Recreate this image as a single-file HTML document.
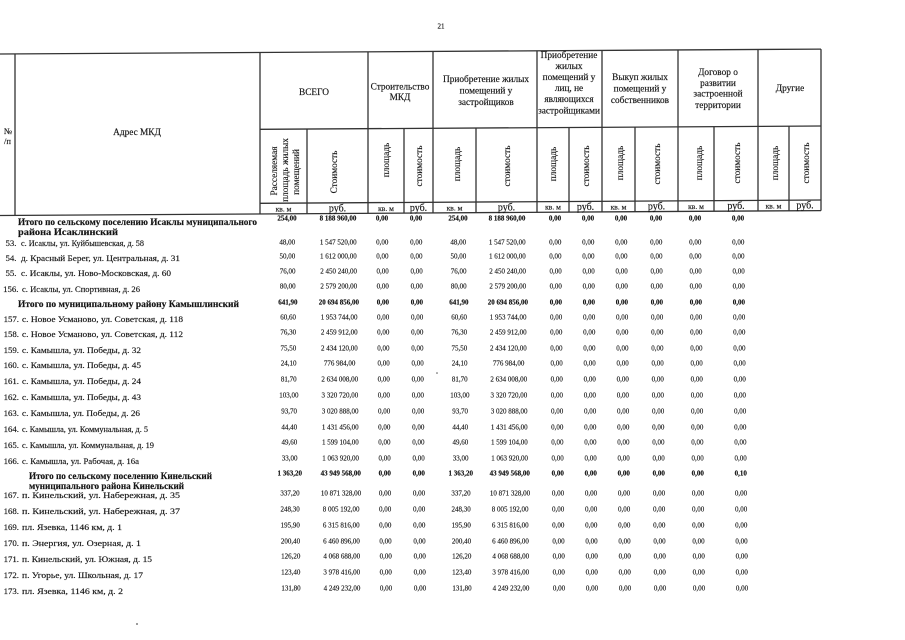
<!DOCTYPE html>
<html>
<head>
<meta charset="utf-8">
<style>
  html,body{margin:0;padding:0;background:#fff;}
  svg{display:block;}
  text{font-family:"Liberation Serif","Noto Serif CJK SC",serif;fill:#141414;stroke:#141414;stroke-width:0.15;}
  .h{font-size:9.3px;text-anchor:middle;}
  .r{font-size:9.3px;text-anchor:middle;}
  .u{font-size:7.5px;text-anchor:middle;}
  .ru{font-size:10px;text-anchor:middle;}
  .a{font-size:8.8px;}
  .i{font-size:8.8px;text-anchor:end;}
  .t{font-size:9px;font-weight:bold;}
  .n text{font-size:7px;text-anchor:middle;fill:#1e1e1e;}
  .nb text{font-size:7px;text-anchor:middle;font-weight:bold;fill:#111;}
  line{stroke:#333;stroke-width:1.3;}
</style>
</head>
<body>
<svg width="905" height="640" viewBox="0 0 905 640" xmlns="http://www.w3.org/2000/svg">
  <!-- page number -->
  <text x="441" y="28.5" style="font-size:7px;text-anchor:middle;">21</text>

  <!-- header grid -->
  <line x1="0" y1="54" x2="821" y2="49.1"/>
  <line x1="260" y1="129.3" x2="821" y2="126"/>
  <line x1="260" y1="203.3" x2="821" y2="200"/>
  <line x1="0" y1="215.5" x2="821" y2="210.6"/>

  <line x1="15" y1="53.9" x2="15" y2="215.4"/>
  <line x1="260" y1="52.4" x2="260" y2="213.9"/>
  <line x1="307" y1="129.1" x2="307" y2="213.7"/>
  <line x1="368" y1="51.8" x2="368" y2="213.3"/>
  <line x1="404" y1="128.5" x2="404" y2="213.1"/>
  <line x1="433" y1="51.4" x2="433" y2="212.9"/>
  <line x1="476" y1="128.0" x2="476" y2="212.6"/>
  <line x1="537" y1="50.8" x2="537" y2="212.3"/>
  <line x1="569" y1="127.5" x2="569" y2="212.1"/>
  <line x1="602" y1="50.4" x2="602" y2="211.9"/>
  <line x1="635" y1="127.1" x2="635" y2="211.7"/>
  <line x1="678" y1="49.9" x2="678" y2="211.4"/>
  <line x1="714" y1="126.6" x2="714" y2="211.2"/>
  <line x1="758" y1="49.5" x2="758" y2="211.0"/>
  <line x1="789" y1="126.2" x2="789" y2="210.8"/>
  <line x1="821" y1="49.1" x2="821" y2="210.6"/>

  <!-- left header -->
  <text x="4" y="134" style="font-size:8.5px;">№</text>
  <text x="4" y="144" style="font-size:8.5px;">/п</text>
  <text class="h" x="137" y="135.2">Адрес МКД</text>

  <!-- group headers -->
  <text class="h" x="314" y="94.8">ВСЕГО</text>
  <text class="h" x="400" y="89.5">Строительство</text>
  <text class="h" x="400" y="100">МКД</text>
  <text class="h" x="486" y="82.2">Приобретение жилых</text>
  <text class="h" x="486" y="93.7">помещений у</text>
  <text class="h" x="486" y="105.2">застройщиков</text>
  <text class="h" x="569" y="58.2">Приобретение</text>
  <text class="h" x="569" y="69.2">жилых</text>
  <text class="h" x="569" y="80.2">помещений у</text>
  <text class="h" x="569" y="91.2">лиц, не</text>
  <text class="h" x="569" y="102.2">являющихся</text>
  <text class="h" x="569" y="113.7">застройщиками</text>
  <text class="h" x="640" y="80.2">Выкуп жилых</text>
  <text class="h" x="640" y="91.7">помещений у</text>
  <text class="h" x="640" y="103.2">собственников</text>
  <text class="h" x="718" y="75.2">Договор о</text>
  <text class="h" x="718" y="86.2">развитии</text>
  <text class="h" x="718" y="96.7">застроенной</text>
  <text class="h" x="718" y="108.2">территории</text>
  <text class="h" x="790" y="91.2">Другие</text>

  <!-- rotated sub headers -->
  <text class="r" transform="translate(274,171) rotate(-90)" y="3.2">Расселяемая</text>
  <text class="r" transform="translate(285,170) rotate(-90)" y="3.2">площадь жилых</text>
  <text class="r" transform="translate(296,172) rotate(-90)" y="3.2">помещений</text>
  <text class="r" transform="translate(334,172) rotate(-90)" y="3.2">Стоимость</text>
  <text class="r" transform="translate(386,160) rotate(-90)" y="3.2">площадь</text>
  <text class="r" transform="translate(419,166) rotate(-90)" y="3.2">стоимость</text>
  <text class="r" transform="translate(457,164) rotate(-90)" y="3.2">площадь</text>
  <text class="r" transform="translate(507,166) rotate(-90)" y="3.2">стоимость</text>
  <text class="r" transform="translate(553,164) rotate(-90)" y="3.2">площадь</text>
  <text class="r" transform="translate(586,166) rotate(-90)" y="3.2">стоимость</text>
  <text class="r" transform="translate(620,163) rotate(-90)" y="3.2">площадь</text>
  <text class="r" transform="translate(657,164) rotate(-90)" y="3.2">стоимость</text>
  <text class="r" transform="translate(699,163) rotate(-90)" y="3.2">площадь</text>
  <text class="r" transform="translate(737,163) rotate(-90)" y="3.2">стоимость</text>
  <text class="r" transform="translate(775,163) rotate(-90)" y="3.2">площадь</text>
  <text class="r" transform="translate(806,163) rotate(-90)" y="3.2">стоимость</text>

  <!-- units row -->
  <text class="u" x="283.5" y="211.3">кв. м</text>
  <text class="ru" x="337.5" y="211.6">руб.</text>
  <text class="u" x="386" y="210.8">кв. м</text>
  <text class="ru" x="418.5" y="211">руб.</text>
  <text class="u" x="454.5" y="210.3">кв. м</text>
  <text class="ru" x="506.5" y="210.5">руб.</text>
  <text class="u" x="553" y="209.7">кв. м</text>
  <text class="ru" x="585.5" y="209.9">руб.</text>
  <text class="u" x="618.5" y="209.3">кв. м</text>
  <text class="ru" x="656.5" y="209.5">руб.</text>
  <text class="u" x="696" y="208.8">кв. м</text>
  <text class="ru" x="736" y="209">руб.</text>
  <text class="u" x="773.5" y="208.3">кв. м</text>
  <text class="ru" x="805" y="208.5">руб.</text>

  <!-- address column -->
  <text class="t" x="18" y="225" textLength="239" lengthAdjust="spacingAndGlyphs">Итого по сельскому поселению Исаклы муниципального</text>
  <text class="t" x="18" y="235" textLength="100" lengthAdjust="spacingAndGlyphs">района Исаклинский</text>

  <text class="i" x="16.5" y="246">53.</text>
  <text class="a" x="21" y="246" textLength="123" lengthAdjust="spacingAndGlyphs">с. Исаклы, ул. Куйбышевская, д. 58</text>
  <text class="i" x="16.5" y="261">54.</text>
  <text class="a" x="21" y="261" textLength="159" lengthAdjust="spacingAndGlyphs">д. Красный Берег, ул. Центральная, д. 31</text>
  <text class="i" x="16.5" y="276">55.</text>
  <text class="a" x="21" y="276" textLength="150" lengthAdjust="spacingAndGlyphs">с. Исаклы, ул.  Ново-Московская, д. 60</text>
  <text class="i" x="18.5" y="292">156.</text>
  <text class="a" x="22" y="292" textLength="118" lengthAdjust="spacingAndGlyphs">с. Исаклы, ул. Спортивная, д. 26</text>

  <text class="t" x="18" y="307" textLength="221" lengthAdjust="spacingAndGlyphs">Итого по муниципальному району Камышлинский</text>

  <text class="i" x="19" y="322">157.</text>
  <text class="a" x="22" y="322" textLength="161" lengthAdjust="spacingAndGlyphs">с. Новое Усманово, ул. Советская, д. 118</text>
  <text class="i" x="19" y="337">158.</text>
  <text class="a" x="22" y="337" textLength="161" lengthAdjust="spacingAndGlyphs">с. Новое Усманово, ул. Советская, д. 112</text>
  <text class="i" x="19" y="353">159.</text>
  <text class="a" x="22" y="353" textLength="119" lengthAdjust="spacingAndGlyphs">с. Камышла, ул. Победы, д. 32</text>
  <text class="i" x="19" y="368">160.</text>
  <text class="a" x="22" y="368" textLength="119" lengthAdjust="spacingAndGlyphs">с. Камышла, ул. Победы, д. 45</text>
  <text class="i" x="19" y="384">161.</text>
  <text class="a" x="22" y="384" textLength="119" lengthAdjust="spacingAndGlyphs">с. Камышла, ул. Победы, д. 24</text>
  <text class="i" x="19" y="400">162.</text>
  <text class="a" x="22" y="400" textLength="119" lengthAdjust="spacingAndGlyphs">с. Камышла, ул. Победы, д. 43</text>
  <text class="i" x="19" y="416">163.</text>
  <text class="a" x="22" y="416" textLength="118" lengthAdjust="spacingAndGlyphs">с. Камышла, ул. Победы, д. 26</text>
  <text class="i" x="19" y="432">164.</text>
  <text class="a" x="22" y="432" textLength="126" lengthAdjust="spacingAndGlyphs">с. Камышла, ул. Коммунальная, д. 5</text>
  <text class="i" x="19" y="448">165.</text>
  <text class="a" x="22" y="448" textLength="132" lengthAdjust="spacingAndGlyphs">с. Камышла, ул. Коммунальная, д. 19</text>
  <text class="i" x="19" y="464">166.</text>
  <text class="a" x="22" y="464" textLength="117" lengthAdjust="spacingAndGlyphs">с. Камышла, ул. Рабочая, д. 16а</text>

  <text class="t" x="29" y="479" textLength="183" lengthAdjust="spacingAndGlyphs">Итого по сельскому поселению Кинельский</text>
  <text class="t" x="29" y="489" textLength="155" lengthAdjust="spacingAndGlyphs">муниципального района Кинельский</text>

  <text class="i" x="19" y="498">167.</text>
  <text class="a" x="22" y="498" textLength="158" lengthAdjust="spacingAndGlyphs">п. Кинельский, ул.  Набережная, д. 35</text>
  <text class="i" x="19" y="514">168.</text>
  <text class="a" x="22" y="514" textLength="158" lengthAdjust="spacingAndGlyphs">п. Кинельский, ул.  Набережная, д. 37</text>
  <text class="i" x="19" y="530">169.</text>
  <text class="a" x="22" y="530" textLength="100" lengthAdjust="spacingAndGlyphs">пл. Язевка, 1146 км, д. 1</text>
  <text class="i" x="19" y="546">170.</text>
  <text class="a" x="22" y="546" textLength="119" lengthAdjust="spacingAndGlyphs">п. Энергия, ул. Озерная, д. 1</text>
  <text class="i" x="19" y="562">171.</text>
  <text class="a" x="22" y="562" textLength="130" lengthAdjust="spacingAndGlyphs">п. Кинельский, ул. Южная, д. 15</text>
  <text class="i" x="19" y="578">172.</text>
  <text class="a" x="22" y="578" textLength="121" lengthAdjust="spacingAndGlyphs">п. Угорье, ул. Школьная, д. 17</text>
  <text class="i" x="19" y="594">173.</text>
  <text class="a" x="22" y="594" textLength="101" lengthAdjust="spacingAndGlyphs">пл. Язевка, 1146 км, д. 2</text>

  <!-- data rows -->
  <g class="nb" transform="translate(0,220.5)">
    <text x="287">254,00</text><text x="338">8 188 960,00</text><text x="382">0,00</text><text x="416">0,00</text>
    <text x="458">254,00</text><text x="507">8 188 960,00</text><text x="555">0,00</text><text x="588">0,00</text>
    <text x="621">0,00</text><text x="656">0,00</text><text x="695">0,00</text><text x="738">0,00</text>
  </g>
  <g class="n" transform="translate(0.3,244.5)">
    <text x="287">48,00</text><text x="338">1 547 520,00</text><text x="382">0,00</text><text x="416">0,00</text>
    <text x="458">48,00</text><text x="507">1 547 520,00</text><text x="555">0,00</text><text x="588">0,00</text>
    <text x="621">0,00</text><text x="656">0,00</text><text x="695">0,00</text><text x="738">0,00</text>
  </g>
  <g class="n" transform="translate(0.4,258.5)">
    <text x="287">50,00</text><text x="338">1 612 000,00</text><text x="382">0,00</text><text x="416">0,00</text>
    <text x="458">50,00</text><text x="507">1 612 000,00</text><text x="555">0,00</text><text x="588">0,00</text>
    <text x="621">0,00</text><text x="656">0,00</text><text x="695">0,00</text><text x="738">0,00</text>
  </g>
  <g class="n" transform="translate(0.6,273.5)">
    <text x="287">76,00</text><text x="338">2 450 240,00</text><text x="382">0,00</text><text x="416">0,00</text>
    <text x="458">76,00</text><text x="507">2 450 240,00</text><text x="555">0,00</text><text x="588">0,00</text>
    <text x="621">0,00</text><text x="656">0,00</text><text x="695">0,00</text><text x="738">0,00</text>
  </g>
  <g class="n" transform="translate(0.7,288.5)">
    <text x="287">80,00</text><text x="338">2 579 200,00</text><text x="382">0,00</text><text x="416">0,00</text>
    <text x="458">80,00</text><text x="507">2 579 200,00</text><text x="555">0,00</text><text x="588">0,00</text>
    <text x="621">0,00</text><text x="656">0,00</text><text x="695">0,00</text><text x="738">0,00</text>
  </g>
  <g class="nb" transform="translate(0.9,304.5)">
    <text x="287">641,90</text><text x="338">20 694 856,00</text><text x="382">0,00</text><text x="416">0,00</text>
    <text x="458">641,90</text><text x="507">20 694 856,00</text><text x="555">0,00</text><text x="588">0,00</text>
    <text x="621">0,00</text><text x="656">0,00</text><text x="695">0,00</text><text x="738">0,00</text>
  </g>
  <g class="n" transform="translate(1.1,319.5)">
    <text x="287">60,60</text><text x="338">1 953 744,00</text><text x="382">0,00</text><text x="416">0,00</text>
    <text x="458">60,60</text><text x="507">1 953 744,00</text><text x="555">0,00</text><text x="588">0,00</text>
    <text x="621">0,00</text><text x="656">0,00</text><text x="695">0,00</text><text x="738">0,00</text>
  </g>
  <g class="n" transform="translate(1.2,334.5)">
    <text x="287">76,30</text><text x="338">2 459 912,00</text><text x="382">0,00</text><text x="416">0,00</text>
    <text x="458">76,30</text><text x="507">2 459 912,00</text><text x="555">0,00</text><text x="588">0,00</text>
    <text x="621">0,00</text><text x="656">0,00</text><text x="695">0,00</text><text x="738">0,00</text>
  </g>
  <g class="n" transform="translate(1.4,350.5)">
    <text x="287">75,50</text><text x="338">2 434 120,00</text><text x="382">0,00</text><text x="416">0,00</text>
    <text x="458">75,50</text><text x="507">2 434 120,00</text><text x="555">0,00</text><text x="588">0,00</text>
    <text x="621">0,00</text><text x="656">0,00</text><text x="695">0,00</text><text x="738">0,00</text>
  </g>
  <g class="n" transform="translate(1.6,365.5)">
    <text x="287">24,10</text><text x="338">776 984,00</text><text x="382">0,00</text><text x="416">0,00</text>
    <text x="458">24,10</text><text x="507">776 984,00</text><text x="555">0,00</text><text x="588">0,00</text>
    <text x="621">0,00</text><text x="656">0,00</text><text x="695">0,00</text><text x="738">0,00</text>
  </g>
  <g class="n" transform="translate(1.7,381.5)">
    <text x="287">81,70</text><text x="338">2 634 008,00</text><text x="382">0,00</text><text x="416">0,00</text>
    <text x="458">81,70</text><text x="507">2 634 008,00</text><text x="555">0,00</text><text x="588">0,00</text>
    <text x="621">0,00</text><text x="656">0,00</text><text x="695">0,00</text><text x="738">0,00</text>
  </g>
  <g class="n" transform="translate(1.9,397.5)">
    <text x="287">103,00</text><text x="338">3 320 720,00</text><text x="382">0,00</text><text x="416">0,00</text>
    <text x="458">103,00</text><text x="507">3 320 720,00</text><text x="555">0,00</text><text x="588">0,00</text>
    <text x="621">0,00</text><text x="656">0,00</text><text x="695">0,00</text><text x="738">0,00</text>
  </g>
  <g class="n" transform="translate(2.1,413.5)">
    <text x="287">93,70</text><text x="338">3 020 888,00</text><text x="382">0,00</text><text x="416">0,00</text>
    <text x="458">93,70</text><text x="507">3 020 888,00</text><text x="555">0,00</text><text x="588">0,00</text>
    <text x="621">0,00</text><text x="656">0,00</text><text x="695">0,00</text><text x="738">0,00</text>
  </g>
  <g class="n" transform="translate(2.3,429.5)">
    <text x="287">44,40</text><text x="338">1 431 456,00</text><text x="382">0,00</text><text x="416">0,00</text>
    <text x="458">44,40</text><text x="507">1 431 456,00</text><text x="555">0,00</text><text x="588">0,00</text>
    <text x="621">0,00</text><text x="656">0,00</text><text x="695">0,00</text><text x="738">0,00</text>
  </g>
  <g class="n" transform="translate(2.4,444.5)">
    <text x="287">49,60</text><text x="338">1 599 104,00</text><text x="382">0,00</text><text x="416">0,00</text>
    <text x="458">49,60</text><text x="507">1 599 104,00</text><text x="555">0,00</text><text x="588">0,00</text>
    <text x="621">0,00</text><text x="656">0,00</text><text x="695">0,00</text><text x="738">0,00</text>
  </g>
  <g class="n" transform="translate(2.6,460.5)">
    <text x="287">33,00</text><text x="338">1 063 920,00</text><text x="382">0,00</text><text x="416">0,00</text>
    <text x="458">33,00</text><text x="507">1 063 920,00</text><text x="555">0,00</text><text x="588">0,00</text>
    <text x="621">0,00</text><text x="656">0,00</text><text x="695">0,00</text><text x="738">0,00</text>
  </g>
  <g class="nb" transform="translate(2.8,475.5)">
    <text x="287">1 363,20</text><text x="338">43 949 568,00</text><text x="382">0,00</text><text x="416">0,00</text>
    <text x="458">1 363,20</text><text x="507">43 949 568,00</text><text x="555">0,00</text><text x="588">0,00</text>
    <text x="621">0,00</text><text x="656">0,00</text><text x="695">0,00</text><text x="738">0,10</text>
  </g>
  <g class="n" transform="translate(3.0,495.5)">
    <text x="287">337,20</text><text x="338">10 871 328,00</text><text x="382">0,00</text><text x="416">0,00</text>
    <text x="458">337,20</text><text x="507">10 871 328,00</text><text x="555">0,00</text><text x="588">0,00</text>
    <text x="621">0,00</text><text x="656">0,00</text><text x="695">0,00</text><text x="738">0,00</text>
  </g>
  <g class="n" transform="translate(3.1,511.5)">
    <text x="287">248,30</text><text x="338">8 005 192,00</text><text x="382">0,00</text><text x="416">0,00</text>
    <text x="458">248,30</text><text x="507">8 005 192,00</text><text x="555">0,00</text><text x="588">0,00</text>
    <text x="621">0,00</text><text x="656">0,00</text><text x="695">0,00</text><text x="738">0,00</text>
  </g>
  <g class="n" transform="translate(3.3,527.5)">
    <text x="287">195,90</text><text x="338">6 315 816,00</text><text x="382">0,00</text><text x="416">0,00</text>
    <text x="458">195,90</text><text x="507">6 315 816,00</text><text x="555">0,00</text><text x="588">0,00</text>
    <text x="621">0,00</text><text x="656">0,00</text><text x="695">0,00</text><text x="738">0,00</text>
  </g>
  <g class="n" transform="translate(3.5,543.5)">
    <text x="287">200,40</text><text x="338">6 460 896,00</text><text x="382">0,00</text><text x="416">0,00</text>
    <text x="458">200,40</text><text x="507">6 460 896,00</text><text x="555">0,00</text><text x="588">0,00</text>
    <text x="621">0,00</text><text x="656">0,00</text><text x="695">0,00</text><text x="738">0,00</text>
  </g>
  <g class="n" transform="translate(3.7,558.5)">
    <text x="287">126,20</text><text x="338">4 068 688,00</text><text x="382">0,00</text><text x="416">0,00</text>
    <text x="458">126,20</text><text x="507">4 068 688,00</text><text x="555">0,00</text><text x="588">0,00</text>
    <text x="621">0,00</text><text x="656">0,00</text><text x="695">0,00</text><text x="738">0,00</text>
  </g>
  <g class="n" transform="translate(3.8,574.5)">
    <text x="287">123,40</text><text x="338">3 978 416,00</text><text x="382">0,00</text><text x="416">0,00</text>
    <text x="458">123,40</text><text x="507">3 978 416,00</text><text x="555">0,00</text><text x="588">0,00</text>
    <text x="621">0,00</text><text x="656">0,00</text><text x="695">0,00</text><text x="738">0,00</text>
  </g>
  <g class="n" transform="translate(4.0,590.5)">
    <text x="287">131,80</text><text x="338">4 249 232,00</text><text x="382">0,00</text><text x="416">0,00</text>
    <text x="458">131,80</text><text x="507">4 249 232,00</text><text x="555">0,00</text><text x="588">0,00</text>
    <text x="621">0,00</text><text x="656">0,00</text><text x="695">0,00</text><text x="738">0,00</text>
  </g>

  <!-- scan specks -->
  <circle cx="437" cy="373" r="0.8" fill="#555"/>
  <circle cx="137" cy="624" r="0.9" fill="#555"/>
</svg>
</body>
</html>
